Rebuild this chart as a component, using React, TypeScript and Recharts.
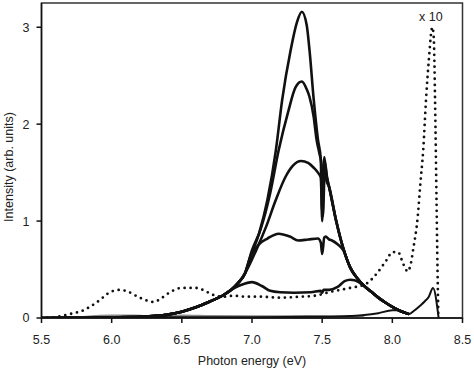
import React from "react";
import { LineChart, Line, XAxis, YAxis, ReferenceArea, ReferenceDot, Label } from "recharts";

const xTicks = [5.5, 6.0, 6.5, 7.0, 7.5, 8.0, 8.5];
const yTicks = [0, 1, 2, 3];

const rise = [
  [5.5, 0], [5.8, 0.002], [6.0, 0.006], [6.2, 0.012], [6.4, 0.035], [6.5, 0.065],
  [6.6, 0.11], [6.7, 0.17], [6.8, 0.24], [6.85, 0.29], [6.9, 0.36], [6.95, 0.46],
];
const tail = [
  [7.85, 0.27], [7.9, 0.21], [7.95, 0.16], [8.0, 0.115], [8.06, 0.07], [8.12, 0.04],
];
const fall = [
  [7.55, 1.35], [7.6, 1.0], [7.65, 0.72], [7.7, 0.52], [7.75, 0.41], [7.8, 0.33],
];

const curveA = [
  ...rise, [6.98, 0.6], [7.05, 0.87], [7.11, 1.22], [7.17, 1.73], [7.215, 2.25],
  [7.275, 2.76], [7.32, 3.05], [7.355, 3.16], [7.39, 3.02], [7.41, 2.76], [7.44, 2.25],
  [7.47, 1.84], [7.49, 1.64], [7.5, 1.0], [7.515, 1.66], [7.53, 1.48],
  ...fall, ...tail,
];
const curveB = [
  ...rise, [7.0, 0.7], [7.06, 0.91], [7.13, 1.29], [7.19, 1.73], [7.26, 2.14],
  [7.31, 2.38], [7.355, 2.44], [7.39, 2.36], [7.41, 2.28], [7.44, 2.07], [7.46, 1.84],
  [7.48, 1.7], [7.495, 1.58], [7.505, 1.05], [7.52, 1.6], [7.535, 1.45],
  ...fall, ...tail,
];
const curveC = [
  ...rise, [7.03, 0.7], [7.1, 0.94], [7.17, 1.22], [7.24, 1.46], [7.29, 1.57],
  [7.35, 1.62], [7.4, 1.6], [7.44, 1.55], [7.47, 1.5], [7.49, 1.45], [7.5, 1.1],
  [7.515, 1.55], [7.53, 1.42],
  ...fall, ...tail,
];
const curveD = [
  ...rise, [7.0, 0.66], [7.05, 0.76], [7.11, 0.82], [7.19, 0.87], [7.27, 0.84],
  [7.33, 0.8], [7.4, 0.81], [7.47, 0.82], [7.49, 0.78], [7.5, 0.66], [7.515, 0.83],
  [7.525, 0.84], [7.55, 0.81], [7.57, 0.8], [7.61, 0.76], [7.65, 0.7], [7.7, 0.52],
  [7.75, 0.41], [7.8, 0.33], ...tail,
];
const curveE = [
  ...rise.slice(0, 10), [6.92, 0.34], [7.0, 0.37], [7.07, 0.33], [7.13, 0.28],
  [7.2, 0.265], [7.3, 0.26], [7.42, 0.265], [7.49, 0.28], [7.5, 0.26], [7.51, 0.29],
  [7.55, 0.29], [7.61, 0.32], [7.66, 0.38], [7.7, 0.395], [7.73, 0.39], [7.76, 0.37],
  [7.8, 0.33], ...tail,
];
const curveF = [
  [5.5, 0], [5.9, 0.004], [6.1, 0.012], [6.3, 0.008], [6.5, 0.008], [7.0, 0.008],
  [7.5, 0.012], [7.7, 0.02], [7.8, 0.03], [7.9, 0.05], [8.0, 0.08], [8.05, 0.08],
  [8.1, 0.05], [8.12, 0.04], [8.15, 0.07], [8.2, 0.13], [8.23, 0.17], [8.26, 0.22],
  [8.29, 0.31], [8.33, 0],
];
const curveGray = [
  [5.8, 0.005], [6.0, 0.02], [6.15, 0.02], [6.3, 0.01], [6.5, 0.02], [6.7, 0.015],
  [7.0, 0.012], [7.4, 0.015], [7.8, 0.01],
];
const curveDotted = [
  [5.5, 0], [5.6, 0.01], [5.7, 0.04], [5.8, 0.08], [5.85, 0.12], [5.92, 0.19],
  [5.97, 0.25], [6.05, 0.29], [6.1, 0.28], [6.2, 0.21], [6.3, 0.165], [6.35, 0.2],
  [6.42, 0.27], [6.5, 0.31], [6.6, 0.31], [6.65, 0.29], [6.72, 0.24], [6.8, 0.22],
  [6.87, 0.23], [6.95, 0.22], [7.05, 0.22], [7.2, 0.21], [7.35, 0.22], [7.45, 0.23],
  [7.56, 0.27], [7.7, 0.31], [7.81, 0.35], [7.89, 0.46], [7.96, 0.6], [8.0, 0.68],
  [8.04, 0.68], [8.08, 0.55], [8.11, 0.48], [8.13, 0.55], [8.15, 0.72], [8.18, 1.03],
  [8.2, 1.39], [8.22, 1.73], [8.24, 2.25], [8.26, 2.66], [8.285, 3.0], [8.295, 2.9],
  [8.305, 2.2], [8.315, 1.2], [8.322, 0.5], [8.328, 0],
];

const xLabel = "Photon energy (eV)";
const yLabel = "Intensity (arb. units)";
const scaleNote = "x 10";

const toRows = (pts: number[][]) => pts.map(([e, v]) => ({ e, v }));

const FONT = "'Liberation Sans', Arial, sans-serif";
const INK = "#111";

const solid = [curveA, curveB, curveC, curveD, curveE];

export default function App() {
  return (
    <div style={{ position: "absolute", left: 0, top: 0 }}>
      <LineChart
        width={474}
        height={370}
        margin={{ top: 3, right: 11.5, bottom: 0, left: 0.5 }}
        style={{ fontFamily: FONT }}
      >
        <XAxis
          dataKey="e"
          type="number"
          domain={[5.5, 8.5]}
          ticks={xTicks}
          allowDataOverflow
          tickFormatter={(v: number) => v.toFixed(1)}
          height={52}
          tickSize={5}
          tickMargin={12}
          stroke={INK}
          strokeWidth={1.5}
          tick={{ fill: "#222", fontSize: 12.5, fontFamily: FONT }}
        >
          <Label value={xLabel} position="insideBottom" offset={5} style={{ fill: "#222", fontSize: 12.5, fontFamily: FONT }} />
        </XAxis>
        <YAxis
          type="number"
          domain={[0, 3.25]}
          ticks={yTicks}
          allowDataOverflow
          width={41}
          tickSize={5}
          tickMargin={7}
          stroke={INK}
          strokeWidth={1.5}
          tick={{ fill: "#222", fontSize: 12.5, fontFamily: FONT }}
        >
          <Label
            content={() => (
              <text
                x={9}
                y={167}
                transform="rotate(-90 9 167)"
                textAnchor="middle"
                dominantBaseline="central"
                style={{ fill: "#222", fontSize: 12.5, fontFamily: FONT }}
              >
                {yLabel}
              </text>
            )}
          />
        </YAxis>
        <ReferenceArea x1={5.5} x2={8.5} y1={0} y2={3.25} fill="none" stroke="#333" strokeWidth={1.5} ifOverflow="visible" />
        <Line data={toRows(curveGray)} dataKey="v" type="monotone" stroke="#8a8a8a" strokeWidth={3} dot={false} isAnimationActive={false} />
        <Line data={toRows(curveF)} dataKey="v" type="monotone" stroke={INK} strokeWidth={2} dot={false} isAnimationActive={false} />
        {solid.map((c, i) => (
          <Line key={i} data={toRows(c)} dataKey="v" type="monotone" stroke={INK} strokeWidth={2.6} dot={false} isAnimationActive={false} />
        ))}
        <Line
          data={toRows(curveDotted)}
          dataKey="v"
          type="monotone"
          stroke={INK}
          strokeWidth={2.8}
          strokeDasharray="0 6"
          strokeLinecap="round"
          dot={false}
          isAnimationActive={false}
        />
        <ReferenceDot x={8.275} y={3.11} r={0} ifOverflow="visible">
          <Label value={scaleNote} position="center" style={{ fill: "#222", fontSize: 12.5, fontFamily: FONT }} />
        </ReferenceDot>
      </LineChart>
    </div>
  );
}
